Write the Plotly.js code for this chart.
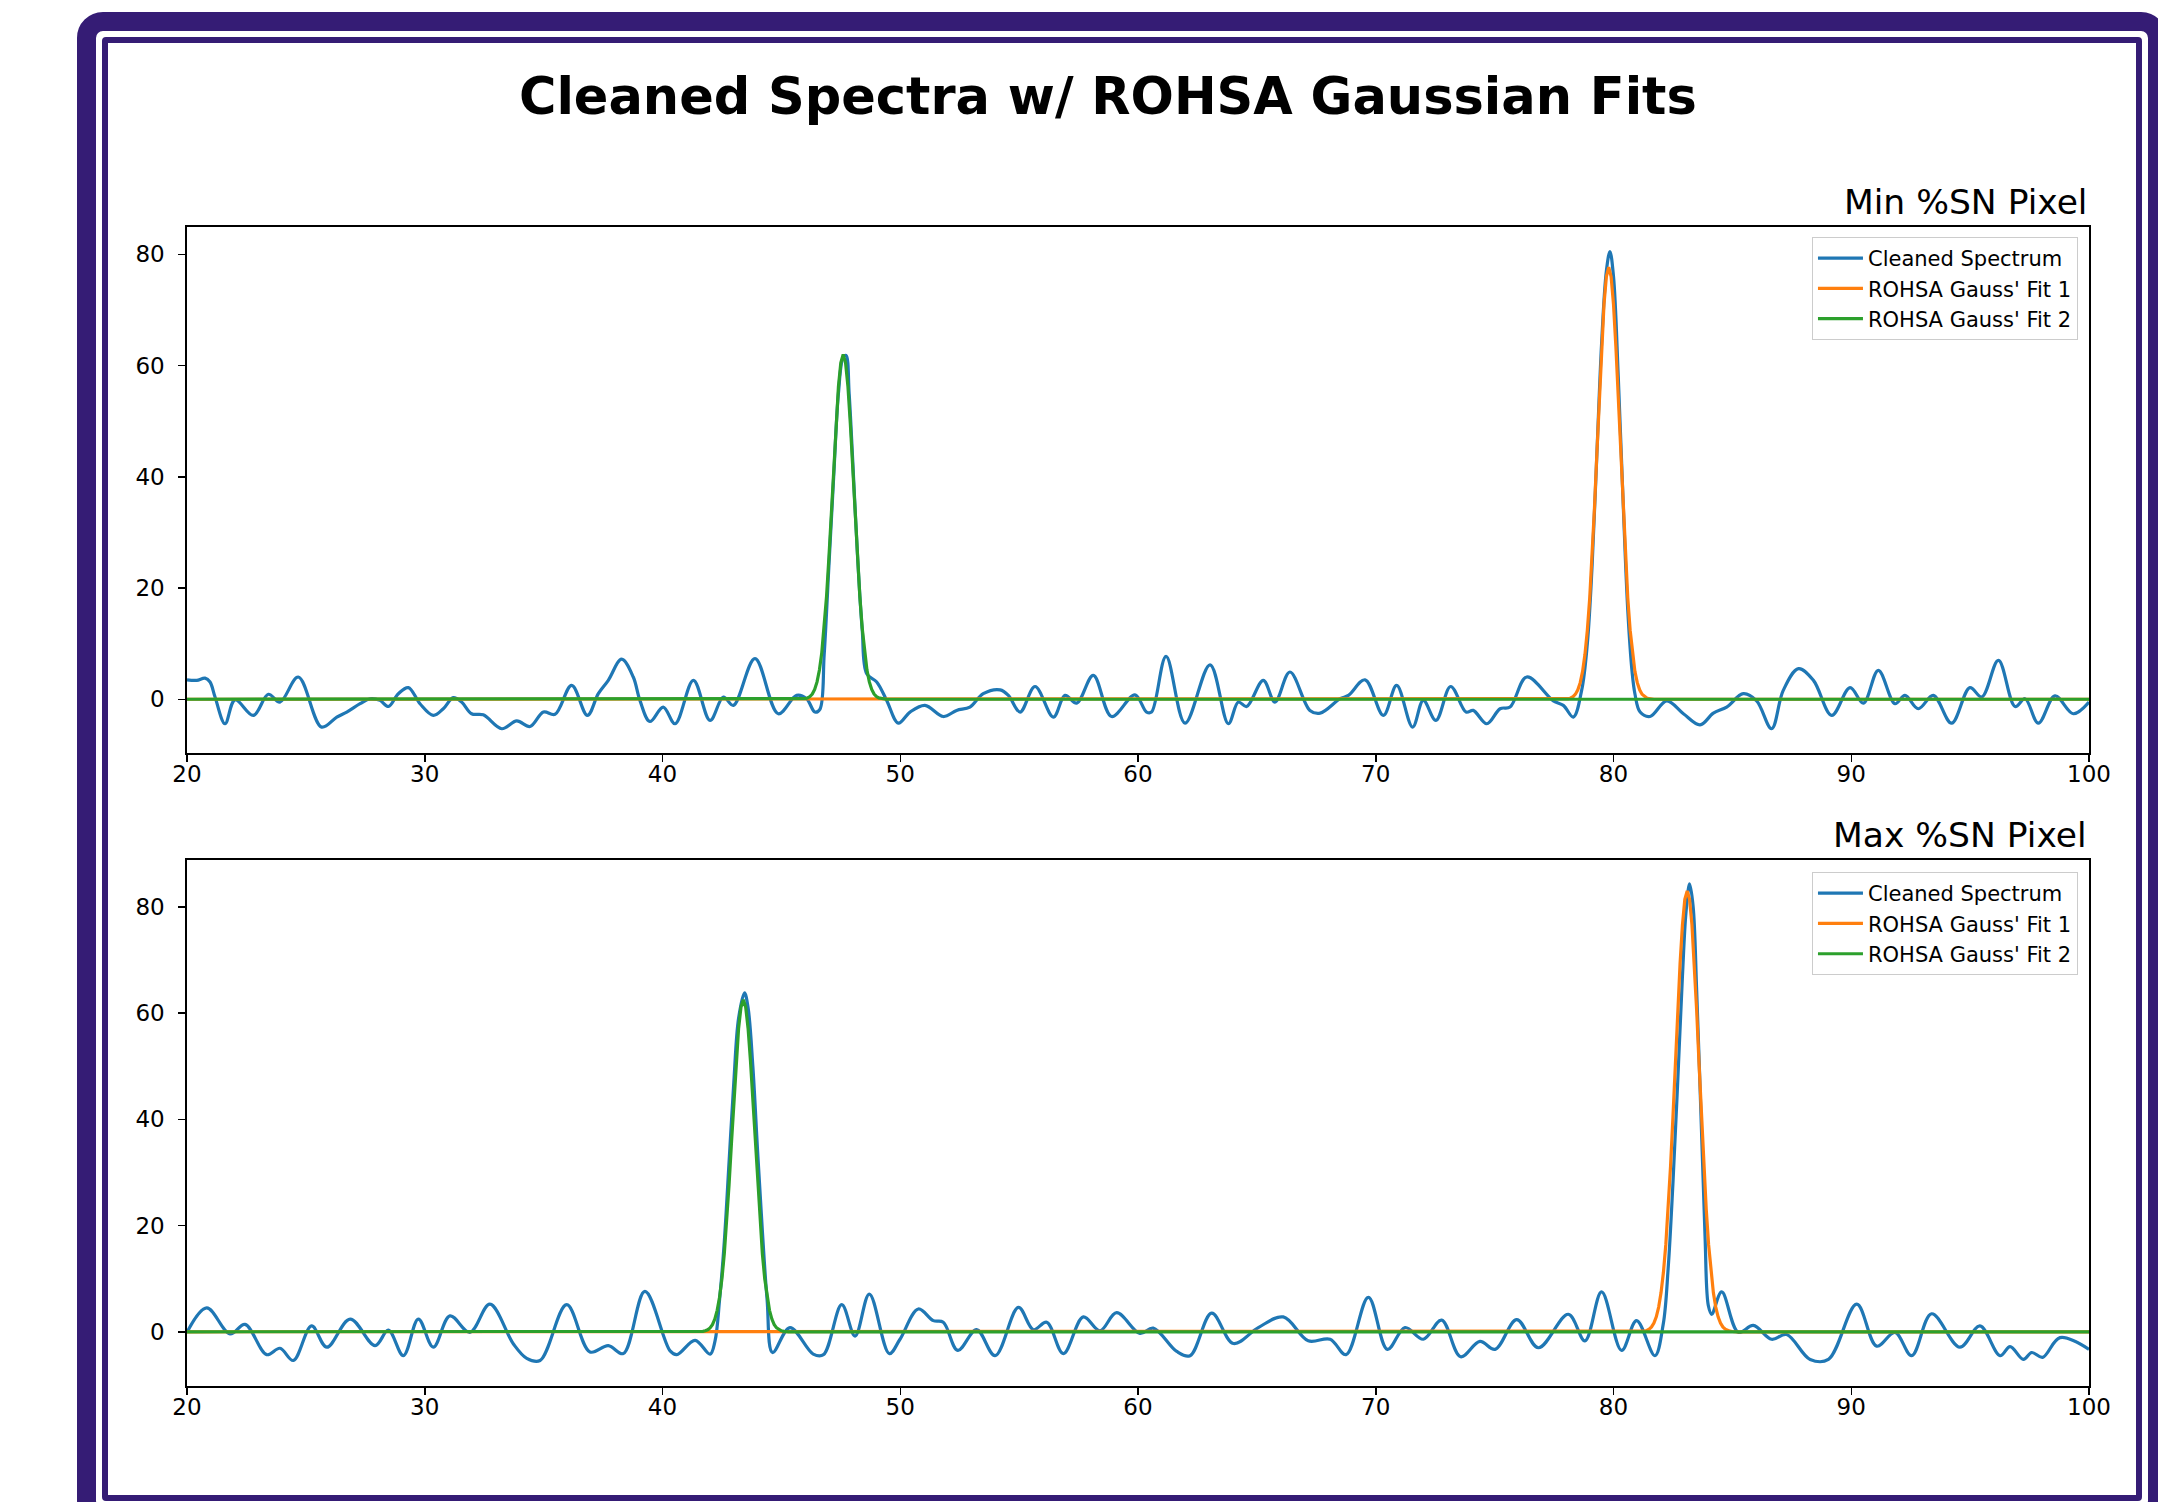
<!DOCTYPE html>
<html><head><meta charset="utf-8">
<script src="https://cdn.plot.ly/plotly-3.0.1.min.js"></script>
<style>
html,body{margin:0;padding:0;background:#fff;width:2158px;height:1502px;overflow:hidden;}
#outer{position:absolute;left:77px;top:12px;width:2090px;height:1515px;box-sizing:border-box;border:19px solid #351c75;border-radius:26px;}
#inner{position:absolute;left:102px;top:37px;width:2040px;height:1464px;box-sizing:border-box;border:6px solid #351c75;border-radius:4px;}
#chart{position:absolute;left:0;top:0;width:2158px;height:1502px;}
</style></head><body>
<div id="outer"></div><div id="inner"></div><div id="chart"></div>
<script>
// ---- Data ----
const xTicks = [20,30,40,50,60,70,80,90,100];
const yTicks = [0,20,40,60,80];
const seriesNames = ["Cleaned Spectrum","ROHSA Gauss' Fit 1","ROHSA Gauss' Fit 2"];
const subplotTitles = ["Min %SN Pixel","Max %SN Pixel"];

// Min %SN pixel
const minX = [20.0,20.41,20.76,20.97,21.18,21.60,22.02,22.79,23.42,23.91,24.68,25.66,26.30,26.72,27.28,27.70,28.12,28.47,28.89,29.31,29.80,30.36,30.78,31.20,31.55,31.97,32.46,33.24,33.87,34.43,34.99,35.48,36.18,36.84,37.30,37.72,38.28,38.77,39.05,39.47,40.03,40.53,41.30,42.00,42.56,42.98,43.89,44.87,45.64,46.06,46.41,46.62,46.8,47.0,47.2,47.4,47.6,47.72,47.85,48.0,48.2,48.4,48.59,49.01,49.43,49.92,50.41,51.04,51.81,52.37,52.93,53.49,54.20,54.55,55.04,55.67,56.44,56.93,57.42,58.12,58.89,59.87,60.36,60.57,61.18,61.98,63.03,63.80,64.22,64.57,65.27,65.76,66.39,67.23,67.66,68.50,68.85,69.55,70.32,70.88,71.55,72.00,72.53,73.15,73.80,74.10,74.67,75.23,75.65,76.35,77.47,77.89,78.31,78.66,78.9,79.1,79.3,79.5,79.7,79.85,80.0,80.2,80.4,80.6,80.78,80.90,81.12,81.54,82.24,82.94,83.64,84.20,84.76,85.46,86.02,86.65,87.14,87.78,88.41,89.18,89.95,90.51,91.14,91.84,92.26,92.82,93.45,94.22,94.99,95.49,96.19,96.89,97.31,97.87,98.57,99.34,100.0];
const minSpec = [3.5,3.4,3.8,3.1,0.4,-4.4,-0.1,-2.9,0.9,-0.5,4.0,-5.0,-3.2,-2.3,-0.8,0.1,-0.2,-1.3,1.0,2.1,-0.8,-2.9,-1.7,0.3,-0.5,-2.6,-2.8,-5.3,-3.9,-4.9,-2.3,-2.7,2.5,-2.9,1.0,3.4,7.2,4.0,-0.2,-4.0,-1.4,-4.4,3.4,-3.8,0.4,-1.1,7.3,-2.6,0.7,0.1,-2.3,-1.8,8,24,40,55,61.5,61.8,55,43,26,12.5,4.6,3.1,-0.2,-4.3,-2.3,-1.1,-3.1,-2.0,-1.4,1.0,1.7,0.7,-2.3,2.3,-3.2,0.7,-0.7,4.3,-3.1,0.8,-2.3,-2.3,7.7,-4.3,6.2,-4.4,-0.5,-1.3,3.4,-0.5,4.9,-2.0,-2.5,0.1,0.7,3.5,-2.9,2.5,-5.0,-0.2,-3.8,2.3,-2.3,-2.0,-4.4,-1.7,-1.4,4.0,-0.3,-1.1,-3.2,1.6,10,24,44,64,77,80.5,76,58,36,16,5,1.0,-2.3,-3.1,-0.3,-2.6,-4.6,-2.5,-1.4,1.0,-0.3,-5.3,1.6,5.5,3.4,-2.9,2.1,-0.7,5.2,-0.8,0.7,-1.7,0.7,-4.3,2.1,0.4,7.0,-1.3,0.1,-4.3,0.6,-2.6,-0.5];
const minFit1X = [20,77.9,78.0,78.1,78.2,78.3,78.4,78.5,78.6,78.7,78.8,78.9,79.0,79.1,79.2,79.3,79.4,79.5,79.6,79.7,79.8,79.9,80.0,80.1,80.2,80.3,80.4,80.5,80.6,80.7,80.8,80.9,81.0,81.1,81.2,81.3,81.4,81.5,81.6,81.7,100];
const minFit1 = [0,0,0.05,0.11,0.24,0.48,0.92,1.69,2.98,5.02,8.08,12.42,18.25,25.63,34.4,44.13,54.1,63.38,70.98,75.96,77.7,75.96,70.98,63.38,54.1,44.13,34.4,25.63,18.25,12.42,8.08,5.02,2.98,1.69,0.92,0.48,0.24,0.11,0.05,0,0];
const minFit2X = [20,45.8,45.9,46.0,46.1,46.2,46.3,46.4,46.5,46.6,46.7,46.8,46.9,47.0,47.1,47.2,47.3,47.4,47.5,47.6,47.7,47.8,47.9,48.0,48.1,48.2,48.3,48.4,48.5,48.6,48.7,48.8,48.9,49.0,49.1,49.2,49.3,49.4,100];
const minFit2 = [0,0,0.05,0.11,0.24,0.49,0.95,1.77,3.12,5.25,8.39,12.8,18.5,25.5,33.4,41.8,49.6,56.2,60.5,62,60.5,56.2,49.6,41.8,33.4,25.5,18.5,12.8,8.39,5.25,3.12,1.77,0.95,0.49,0.24,0.11,0.05,0,0];

// Max %SN pixel
const maxX = [20.0,20.83,21.81,22.44,23.35,23.91,24.47,25.24,25.88,26.86,27.91,28.47,29.10,29.73,30.36,31.06,31.90,32.74,33.73,34.29,34.85,35.97,36.95,37.72,38.35,39.26,40.32,40.60,41.37,42.00,42.21,42.4,42.6,42.8,43.0,43.2,43.45,43.6,43.8,44.0,44.2,44.4,44.63,45.36,46.34,46.77,47.54,48.10,48.70,49.54,49.99,50.76,51.39,51.81,52.42,53.21,53.99,54.97,55.60,56.16,56.86,57.70,58.40,59.10,60.08,60.64,61.63,62.19,63.10,64.01,65.06,66.11,67.16,68.08,68.75,69.69,70.49,71.23,72.00,72.77,73.57,74.38,75.02,75.93,76.84,78.10,78.80,79.50,80.34,80.97,81.74,82.09,82.3,82.5,82.7,82.9,83.05,83.2,83.35,83.5,83.7,83.85,83.99,84.13,84.55,85.25,85.88,86.65,87.28,88.27,89.04,90.23,91.07,91.84,92.54,93.38,94.57,95.41,96.26,96.68,97.24,97.59,98.05,98.78,100.0];
const maxSpec = [-0.1,4.5,-0.4,1.4,-4.3,-3.1,-5.4,1.1,-2.9,2.4,-2.6,0.3,-4.5,2.4,-2.9,3.0,-0.1,5.2,-2.3,-5.0,-5.4,5.1,-3.8,-2.6,-4.1,7.6,-3.6,-4.3,-1.6,-4.2,-1.7,6,17,32,47,59,63.8,61,50,34,19,6,-3.9,0.8,-4.2,-4.3,5.1,-0.8,7.1,-4.1,-1.4,4.3,2.1,1.8,-3.5,0.4,-4.5,4.6,0.4,1.8,-4.1,2.8,0.2,3.6,-0.3,0.7,-3.7,-4.5,3.5,-2.2,0.8,2.8,-1.7,-1.4,-4.3,6.5,-3.3,0.8,-1.4,2.2,-4.7,-1.8,-3.3,2.3,-3.0,3.3,-1.7,7.5,-3.5,2.1,-4.5,1.4,12,28,47,67,79,84.3,80,64,38,18,4.9,3.3,7.5,-0.1,1.2,-1.4,-0.5,-5.2,-5.2,5.2,-2.7,-0.1,-4.5,3.4,-2.9,1.1,-4.5,-2.8,-5.2,-3.9,-4.8,-1.1,-3.3];
const maxFit1X = [20,81.0,81.1,81.2,81.3,81.4,81.5,81.6,81.7,81.8,81.9,82.0,82.1,82.2,82.3,82.4,82.5,82.6,82.7,82.8,82.9,83.0,83.1,83.2,83.3,83.4,83.5,83.6,83.7,83.8,83.9,84.0,84.1,84.2,84.3,84.4,84.5,84.6,84.7,84.8,84.9,85.0,85.1,85.2,100];
const maxFit1 = [0,0,0.03,0.06,0.13,0.26,0.50,0.92,1.65,2.82,4.66,7.38,11.2,16.4,23.1,31.2,40.4,50.3,60.3,69.3,76.6,81.4,83.0,81.4,76.6,69.3,60.3,50.3,40.4,31.2,23.1,16.4,11.2,7.38,4.66,2.82,1.65,0.92,0.50,0.26,0.13,0.06,0.03,0,0];
const maxFit2X = [20,41.5,41.6,41.7,41.8,41.9,42.0,42.1,42.2,42.3,42.4,42.5,42.6,42.7,42.8,42.9,43.0,43.1,43.2,43.3,43.4,43.5,43.6,43.7,43.8,43.9,44.0,44.1,44.2,44.3,44.4,44.5,44.6,44.7,44.8,44.9,45.0,45.1,45.2,45.3,100];
const maxFit2 = [0,0,0.04,0.09,0.19,0.38,0.74,1.36,2.4,4.04,6.5,10.0,14.7,20.6,27.7,35.5,43.5,51.0,57.1,61.1,62.5,61.1,57.1,51.0,43.5,35.5,27.7,20.6,14.7,10.0,6.5,4.04,2.4,1.36,0.74,0.38,0.19,0.09,0.04,0,0];

// ---- Styling ----
const FONT = 'DejaVu Sans, sans-serif';
const colors = ['#1f77b4','#ff7f0e','#2ca02c'];
const LW = 3.2;

function tr(x, y, i, xa, ya, lg, shape){
  return {x:x, y:y, type:'scatter', mode:'lines', name:seriesNames[i],
    line:{color:colors[i], width:LW, shape:shape},
    xaxis:xa, yaxis:ya, legend:lg, hoverinfo:'skip'};
}
const data = [
  tr(minX, minSpec, 0, 'x', 'y', 'legend', 'spline'),
  tr(minFit1X, minFit1, 1, 'x', 'y', 'legend', 'linear'),
  tr(minFit2X, minFit2, 2, 'x', 'y', 'legend', 'linear'),
  tr(maxX, maxSpec, 0, 'x2', 'y2', 'legend2', 'spline'),
  tr(maxFit1X, maxFit1, 1, 'x2', 'y2', 'legend2', 'linear'),
  tr(maxFit2X, maxFit2, 2, 'x2', 'y2', 'legend2', 'linear')
];

const axis = {showline:true, mirror:true, linecolor:'#000', linewidth:1.7,
  ticks:'outside', ticklen:7, tickwidth:1.5, tickcolor:'#000',
  showgrid:false, zeroline:false, fixedrange:true,
  tickfont:{family:FONT, size:23, color:'#000'}};
const legendBase = {x:0.9942, xanchor:'right', yanchor:'top', itemwidth:45,
  bgcolor:'rgba(255,255,255,0.8)', bordercolor:'#cccccc', borderwidth:1,
  font:{family:FONT, size:21, color:'#000'}};

const layout = {
  width:2158, height:1502,
  margin:{l:187, r:69, t:227, b:116},
  paper_bgcolor:'rgba(0,0,0,0)', plot_bgcolor:'#ffffff',
  showlegend:true,
  title:{text:'<b>Cleaned Spectra w/ ROHSA Gaussian Fits</b>', x:0.5134, xanchor:'center',
    y:1-96/1502, yanchor:'middle', yref:'container', font:{family:FONT, size:51, color:'#000'}},
  xaxis:Object.assign({}, axis, {domain:[0,1], range:[20,100], tickvals:xTicks, anchor:'y', ticklabelstandoff:-7}),
  yaxis:Object.assign({}, axis, {domain:[0.5462,1], range:[-9.65,84.9], tickvals:yTicks, anchor:'x', ticklabelstandoff:9}),
  xaxis2:Object.assign({}, axis, {domain:[0,1], range:[20,100], tickvals:xTicks, anchor:'y2', ticklabelstandoff:-7}),
  yaxis2:Object.assign({}, axis, {domain:[0,0.4538], range:[-10.2,88.8], tickvals:yTicks, anchor:'x2', ticklabelstandoff:9}),
  legend:Object.assign({}, legendBase, {y:0.9914}),
  legend2:Object.assign({}, legendBase, {y:0.4435}),
  annotations:[
    {text:subplotTitles[0], xref:'paper', yref:'paper', x:1, y:1, xanchor:'right', yanchor:'bottom', yshift:3, showarrow:false, font:{family:FONT, size:34.5, color:'#000'}},
    {text:subplotTitles[1], xref:'paper', yref:'paper', x:1, y:0.4538, xanchor:'right', yanchor:'bottom', yshift:3, showarrow:false, font:{family:FONT, size:34.5, color:'#000'}}
  ]
};
Plotly.newPlot('chart', data, layout, {staticPlot:true, displayModeBar:false});
</script></body></html>
